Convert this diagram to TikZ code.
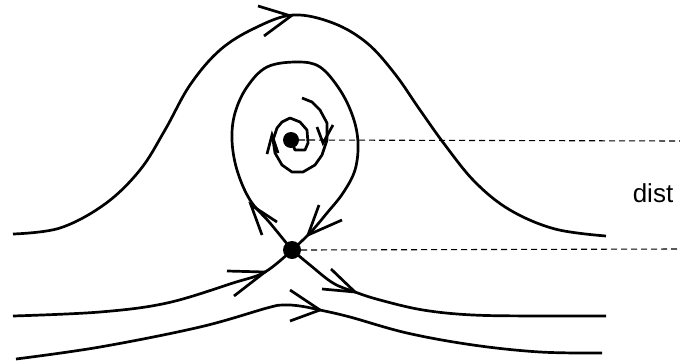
\documentclass[tikz,border=0pt]{standalone}
\usepackage{fontspec}
\setmainfont{Liberation Sans}
\begin{document}
\begin{tikzpicture}[x=1pt,y=-1pt,
  curve/.style={line width=2.7pt, line cap=butt, line join=round},
  chev/.style={line width=2.7pt, line cap=butt, line join=miter},
  guide/.style={line width=1.1pt, dash pattern=on 6pt off 4pt},
  dot/.style={circle, fill=black, inner sep=0pt, minimum size=#1}]
\useasboundingbox (0,0) rectangle (680,362);

% fixed points
\node[dot=18pt] (saddle) at (292,250) {};
\node[dot=16pt] (centre) at (291,140) {};

% dashed guides and label
\coordinate (g1) at (680,141);
\coordinate (g2) at (680,249);
\draw[guide] (centre.east) -- (g1);
\draw[guide] (saddle.east) -- (g2);
\node[font=\fontsize{26}{28}\selectfont, anchor=base] (dist) at (653,202) {dist};

% outer hump trajectory
\draw[curve] plot[smooth, tension=0.6] coordinates {
  (13,234) (60,228) (105,204) (140,170) (165,130) (190,85) (220,50)
  (255,28) (293,15) (333,23) (367,43) (395,74) (420,110) (445,145)
  (475,182) (510,210) (555,229) (606,236)};
\draw[chev] (258,6) -- (291,16) -- (264,36);

% homoclinic loop
\draw[curve] plot[smooth, tension=0.6] coordinates {
  (292,250) (270,223) (250,200) (237,170) (232,140) (235,113) (247,87)
  (267,67) (297,62) (320,67) (340,90) (353,117) (358,143) (355,170)
  (343,193) (327,213) (310,233) (292,250)};
\draw[chev] (262,235) -- (251,205) -- (277,222);
\draw[chev] (319,205) -- (308,235) -- (342,220);

% spiral
\draw[curve] (291,140) -- (295,150) -- (305,150) -- (308,143) -- (307,130)
  -- (300,122) -- (290,118) -- (282,122) -- (277,128) -- (273,140)
  -- (275,153) -- (282,165) -- (292,172) -- (303,172) -- (315,165)
  -- (322,155) -- (327,140) -- (327,123) -- (320,110) -- (312,102) -- (302,98);
\draw[chev] (267,154) -- (272,135) -- (278,153);
\draw[chev] (317,127) -- (323,143) -- (333,125);

% incoming separatrix (lower left)
\draw[curve] plot[smooth, tension=0.6] coordinates {
  (13,316) (100,312) (167,303) (233,283) (265,272) (292,250)};
\draw[chev] (227,271) -- (265,272) -- (234,296);

% outgoing separatrix (lower right)
\draw[curve] plot[smooth, tension=0.6] coordinates {
  (292,250) (310,265) (333,283) (355,292) (380,300) (423,310) (473,315)
  (540,316) (606,316)};
\draw[chev] (322,289) -- (355,292) -- (331,269);

% bottom trajectory
\draw[curve] plot[smooth, tension=0.6] coordinates {
  (16,359) (100,347) (200,327) (267,308) (283,305) (300,306) (320,310)
  (350,317) (407,333) (473,345) (540,352) (602,353)};
\draw[chev] (290,290) -- (320,310) -- (290,321);
\end{tikzpicture}
\end{document}
